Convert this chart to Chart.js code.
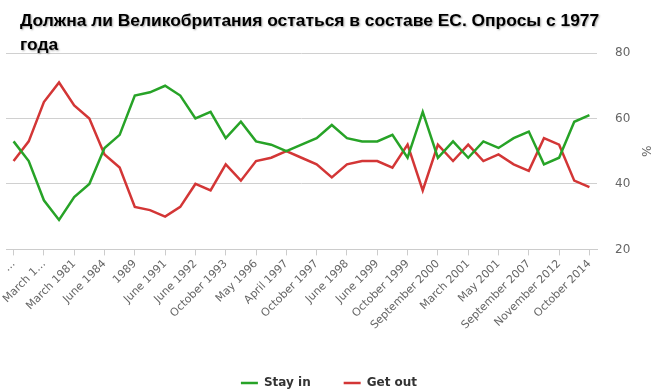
<!DOCTYPE html>
<html>
<head>
<meta charset="utf-8">
<script src="https://cdn.jsdelivr.net/npm/chart.js@4/dist/chart.umd.min.js"></script>
<style>
html,body{margin:0;padding:0;background:#fff;}
#wrap{width:659px;height:392px;position:relative;}
</style>
</head>
<body>
<div id="wrap"><canvas id="c" width="659" height="392"></canvas></div>
<script>
const titleLines = ["Должна ли Великобритания остаться в составе ЕС. Опросы с 1977", "года"];
const tickLabels = ["…", "March 1…", "March 1981", "June 1984", "1989", "June 1991", "June 1992",
  "October 1993", "May 1996", "April 1997", "October 1997", "June 1998", "June 1999",
  "October 1999", "September 2000", "March 2001", "May 2001", "September 2007",
  "November 2012", "October 2014"];
// one category per poll; only every second poll carries a visible label
const categories = [];
for (let i = 0; i < tickLabels.length; i++) {
  categories.push(tickLabels[i]);
  if (i < tickLabels.length - 1) categories.push("");
}
const stayIn = [53,47,35,29,36,40,51,55,67,68,70,67,60,62,54,59,53,52,50,52,54,58,54,53,53,55,48,62,48,53,48,53,51,54,56,46,48,59,61];
const getOut = [47,53,65,71,64,60,49,45,33,32,30,33,40,38,46,41,47,48,50,48,46,42,46,47,47,45,52,38,52,47,52,47,49,46,44,54,52,41,39];
const yTicks = [20, 40, 60, 80];

const GREEN = '#27a327';
const RED = '#d33636';

const titleShadow = {
  id: 'titleShadow',
  beforeDraw(chart) {
    const tb = chart.titleBlock;
    if (tb && !tb._wrapped) {
      const orig = tb.draw.bind(tb);
      tb.draw = function () {
        const ctx = chart.ctx;
        ctx.save();
        ctx.translate(14, 4);
        ctx.shadowColor = 'rgba(0,0,0,0.35)';
        ctx.shadowBlur = 2;
        ctx.shadowOffsetX = 1;
        ctx.shadowOffsetY = 1;
        orig();
        ctx.restore();
      };
      tb._wrapped = true;
    }
  }
};

new Chart(document.getElementById('c'), {
  type: 'line',
  data: {
    labels: categories,
    datasets: [
      { label: 'Stay in', data: stayIn, borderColor: GREEN, backgroundColor: GREEN, borderWidth: 2.5, pointRadius: 0, tension: 0 },
      { label: 'Get out', data: getOut, borderColor: RED, backgroundColor: RED, borderWidth: 2.5, pointRadius: 0, tension: 0 }
    ]
  },
  options: {
    responsive: false,
    animation: false,
    layout: { padding: { left: 6, right: 7, top: 0, bottom: 0 } },
    plugins: {
      tooltip: { enabled: false },
      title: {
        display: true,
        text: titleLines,
        align: 'start',
        color: '#000',
        font: { family: '"Liberation Sans", Arial, sans-serif', size: 17.4, weight: 'bold', lineHeight: '24px' },
        padding: { top: 5, bottom: 0 }
      },
      legend: {
        position: 'bottom',
        maxHeight: 48,
        labels: {
          usePointStyle: true,
          pointStyle: 'line',
          pointStyleWidth: 17,
          color: '#333',
          padding: 33,
          font: { family: '"DejaVu Sans", sans-serif', size: 12, weight: 'bold' }
        }
      }
    },
    scales: {
      x: {
        offset: true,
        afterFit: (axis) => { axis.height += 10; },
        grid: {
          drawOnChartArea: false,
          drawTicks: true,
          tickLength: 6,
          tickColor: (ctx) => (ctx.index % 2 === 0 ? '#cccccc' : 'rgba(0,0,0,0)')
        },
        border: { color: '#cccccc', width: 1 },
        ticks: {
          autoSkip: false,
          minRotation: 45,
          maxRotation: 45,
          color: '#666',
          padding: 2,
          font: { family: '"DejaVu Sans", sans-serif', size: 11 }
        }
      },
      y: {
        position: 'right',
        min: 20,
        max: 80,
        afterBuildTicks: (axis) => { axis.ticks = yTicks.map(v => ({ value: v })); },
        afterFit: (axis) => { axis.width = 55; },
        grid: { color: '#d0d0d0', drawTicks: false },
        border: { display: false },
        ticks: {
          color: '#666',
          padding: 18,
          font: { family: '"DejaVu Sans", sans-serif', size: 12 }
        },
        title: {
          display: true,
          text: '%',
          color: '#666',
          padding: { top: 0, bottom: 0 },
          font: { family: '"DejaVu Sans", sans-serif', size: 12 }
        }
      }
    }
  },
  plugins: [titleShadow]
});
</script>
</body>
</html>
